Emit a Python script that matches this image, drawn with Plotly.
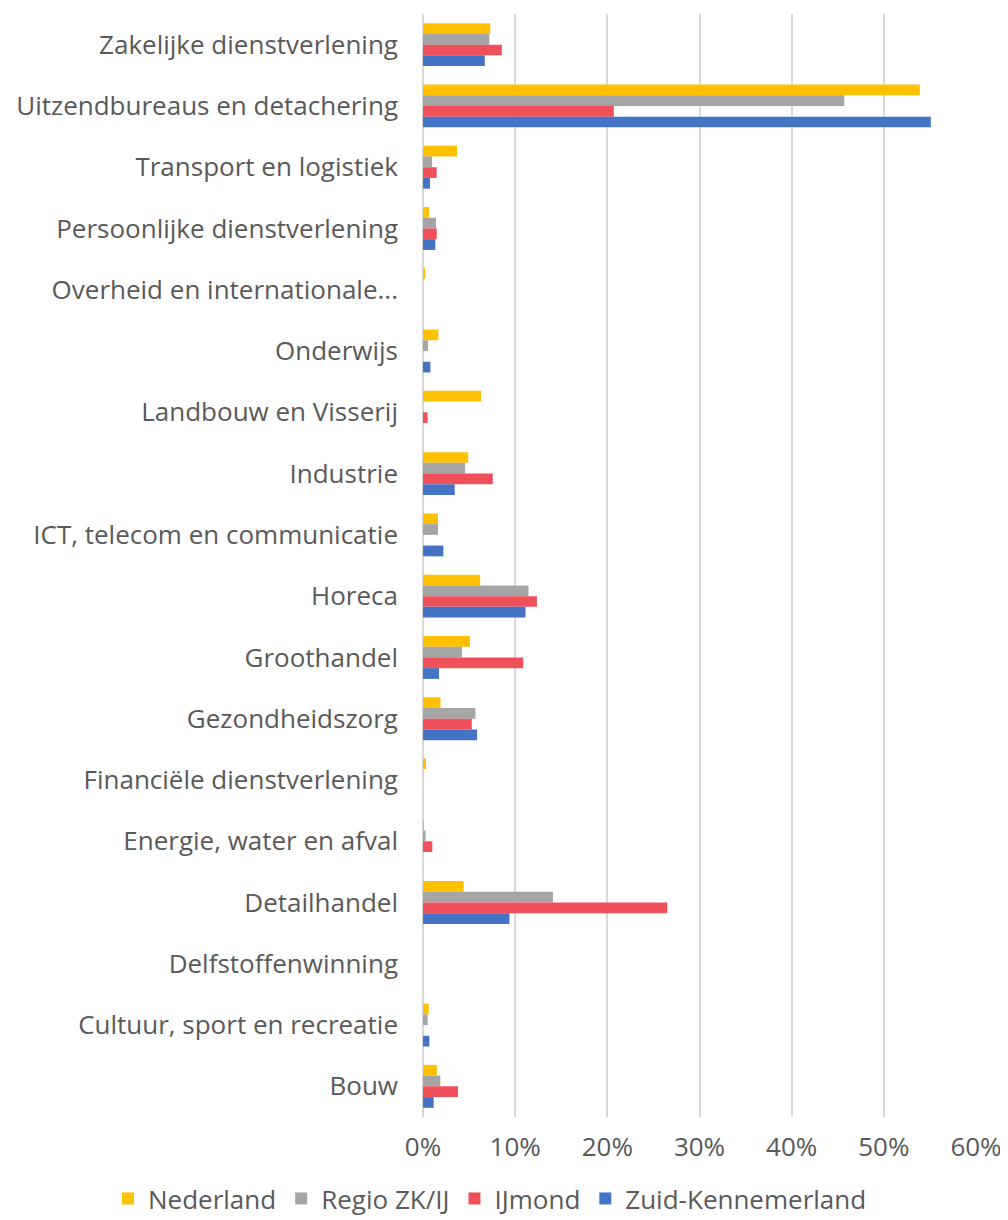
import plotly.graph_objects as go

# Categories, top to bottom as shown
sectors = [
    "Zakelijke dienstverlening",
    "Uitzendbureaus en detachering",
    "Transport en logistiek",
    "Persoonlijke dienstverlening",
    "Overheid en internationale...",
    "Onderwijs",
    "Landbouw en Visserij",
    "Industrie",
    "ICT, telecom en communicatie",
    "Horeca",
    "Groothandel",
    "Gezondheidszorg",
    "Financiële dienstverlening",
    "Energie, water en afval",
    "Detailhandel",
    "Delfstoffenwinning",
    "Cultuur, sport en recreatie",
    "Bouw",
]

# Shares (fractions)
nederland = [0.073, 0.539, 0.037, 0.0065, 0.0018, 0.0167, 0.063, 0.049, 0.0163, 0.062,
             0.051, 0.019, 0.0033, 0.001, 0.044, 0.0, 0.0062, 0.015]
regio = [0.072, 0.457, 0.0098, 0.0141, 0.0, 0.0054, 0.0, 0.0457, 0.0163, 0.1145,
         0.0424, 0.0569, 0.0, 0.0029, 0.141, 0.0, 0.0051, 0.0188]
ijmond = [0.0855, 0.207, 0.0149, 0.0149, 0.0, 0.0, 0.005, 0.0757, 0.0, 0.1236,
          0.1087, 0.0529, 0.0, 0.0101, 0.265, 0.0, 0.0, 0.038]
zuid_kennemerland = [0.067, 0.551, 0.0076, 0.0134, 0.0, 0.008, 0.0, 0.0344, 0.0221, 0.1112,
                     0.0174, 0.0587, 0.0, 0.0, 0.0938, 0.0, 0.0069, 0.0116]

series = [
    ("Nederland", nederland, "#FFC000"),
    ("Regio ZK/IJ", regio, "#A5A5A5"),
    ("IJmond", ijmond, "#F0505A"),
    ("Zuid-Kennemerland", zuid_kennemerland, "#4472C4"),
]

font_family = "Open Sans, Liberation Sans, Arial, sans-serif"
text_color = "#595959"
fsize = 26

fig = go.Figure()
for name, vals, color in series:
    fig.add_trace(go.Bar(
        y=sectors, x=vals, name=name, orientation="h",
        marker=dict(color=color, line=dict(width=0)),
    ))

# the page body adds 8px offset; margins are set so the plot area lands
# at roughly x 423..976, y 14..1117 in the screenshot
L, R, T, B = 415, 40, 6, 105
plot_w = 1008 - L - R
plot_h = 1220 - T - B

fig.update_layout(
    width=1008, height=1220,
    barmode="group",
    bargap=0.3, bargroupgap=0,
    plot_bgcolor="white", paper_bgcolor="white",
    font=dict(family=font_family, size=fsize, color=text_color),
    margin=dict(l=L, r=R, t=T, b=B),
    xaxis=dict(
        range=[0, 0.6], tickformat=".0%", dtick=0.1,
        showgrid=True, gridcolor="#D9D9D9", gridwidth=1.5,
        zeroline=True, zerolinecolor="#D9D9D9", zerolinewidth=1.5,
        showline=False, ticks="", ticklabelstandoff=12,
        automargin=False,
        tickfont=dict(size=fsize, color=text_color),
    ),
    yaxis=dict(
        categoryorder="array", categoryarray=sectors,
        autorange="reversed",
        showgrid=False, showline=False, ticks="",
        ticklabelstandoff=24, automargin=False,
        tickfont=dict(size=fsize, color=text_color),
    ),
    legend=dict(
        orientation="h", x=(100 - L) / plot_w, xanchor="left",
        y=-(1197 - (T + plot_h)) / plot_h, yanchor="middle",
        font=dict(size=fsize, color=text_color),
        itemwidth=30, traceorder="normal",
        tracegroupgap=0,
    ),
)

fig.write_html("out.html")
